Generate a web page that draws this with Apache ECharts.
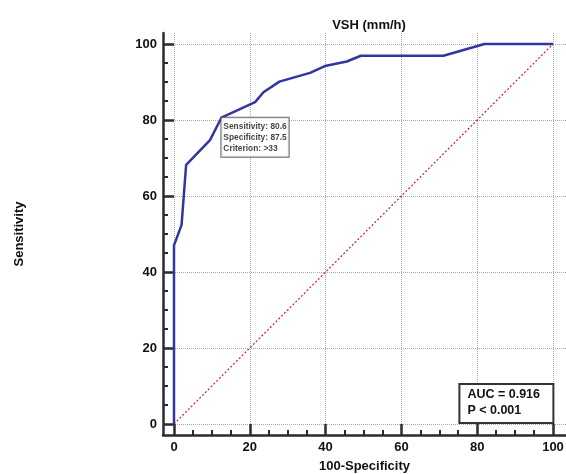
<!DOCTYPE html>
<html>
<head>
<meta charset="utf-8">
<script src="https://cdn.jsdelivr.net/npm/echarts@6/dist/echarts.min.js"></script>
<style>
  html, body { margin: 0; padding: 0; background: #fff; }
  #chart { width: 566px; height: 474px; }
</style>
</head>
<body>
<div id="chart"></div>
<script>
// ROC curve of VSH (mm/h): 100-Specificity vs Sensitivity
const fpr = [0, 0, 2.0, 3.2, 9.5, 12.5, 21.4, 23.6, 27.8, 35.9, 39.8, 45.6, 49.3, 71.1, 81.9, 100];
const sensitivity = [0, 47.0, 52.4, 68.2, 74.7, 80.6, 84.7, 87.3, 90.1, 92.4, 94.2, 95.4, 96.9, 96.9, 100, 100];
const diagonal = [[0, 0], [100, 100]];
const criterion = { fpr: 12.5, sens: 80.6, spec: 87.5, cut: '>33' };
const majorTicks = [0, 20, 40, 60, 80, 100];
const minorTicks = [5, 10, 15, 25, 30, 35, 45, 50, 55, 65, 70, 75, 85, 90, 95];
const aucText = ['AUC = 0.916', 'P < 0.001'];

const FONT = '"Liberation Sans", Arial, sans-serif';
const INK = '#2b2b2b';

const curve = fpr.map((x, i) => [x, sensitivity[i]]);

const majorAxis = (extra) => Object.assign({
  type: 'value',
  gridIndex: 0,
  axisLine: { show: true, onZero: false, lineStyle: { color: INK, width: 2.5 } },
  axisTick: { show: true, inside: true, length: 11, customValues: majorTicks,
              lineStyle: { color: INK, width: 2.5 } },
  axisLabel: { show: true, customValues: majorTicks, margin: 6,
               color: '#111', fontFamily: FONT, fontWeight: 'bold', fontSize: 13 },
  splitLine: { show: true, lineStyle: { color: '#aaa', type: 'dotted', width: 1 } },
  nameLocation: 'middle',
  nameTextStyle: { color: '#111', fontFamily: FONT, fontWeight: 'bold', fontSize: 13 }
}, extra);

const minorAxis = (extra) => Object.assign({
  type: 'value',
  gridIndex: 0,
  axisLine: { show: false, onZero: false },
  axisTick: { show: true, inside: true, length: 5, customValues: minorTicks,
              lineStyle: { color: INK, width: 2 } },
  axisLabel: { show: false },
  splitLine: { show: false }
}, extra);

const chart = echarts.init(document.getElementById('chart'), null, { renderer: 'canvas' });
chart.setOption({
  backgroundColor: '#fff',
  animation: false,
  title: [
    {
      text: 'VSH (mm/h)',
      left: 364, top: 14, textAlign: 'center',
      textStyle: { color: '#111', fontFamily: FONT, fontWeight: 'bold', fontSize: 13 }
    },
    {
      text: aucText.join('\n'),
      right: 12, bottom: 51,
      backgroundColor: '#fff',
      borderColor: '#333', borderWidth: 2,
      padding: [3, 14, 4, 8],
      textStyle: { color: '#111', fontFamily: FONT, fontWeight: 'bold', fontSize: 12.5, lineHeight: 16 }
    }
  ],
  grid: { left: 163, right: 0, top: 33, bottom: 39, containLabel: false, outerBoundsMode: 'none' },
  xAxis: [
    majorAxis({ min: -2.902, max: 103.43, name: '100-Specificity', nameGap: 25 }),
    minorAxis({ min: -2.902, max: 103.43, position: 'bottom' })
  ],
  yAxis: [
    majorAxis({ min: -2.895, max: 102.895, name: 'Sensitivity', nameGap: 137 }),
    minorAxis({ min: -2.895, max: 102.895, position: 'left' })
  ],
  series: [
    {
      type: 'line',
      data: diagonal,
      symbol: 'none',
      silent: true,
      lineStyle: { color: '#b82828', width: 1.2, type: [2, 2] },
      z: 2
    },
    {
      type: 'line',
      data: curve,
      symbol: 'none',
      silent: true,
      lineStyle: { color: '#3434a2', width: 2.5 },
      z: 3
    },
    {
      type: 'scatter',
      data: [[criterion.fpr, criterion.sens]],
      symbolSize: 0,
      silent: true,
      z: 4,
      label: {
        show: true,
        position: [0, 0],
        align: 'left',
        verticalAlign: 'top',
        formatter: [
          'Sensitivity: ' + criterion.sens.toFixed(1),
          'Specificity: ' + criterion.spec.toFixed(1),
          'Criterion: ' + criterion.cut
        ].join('\n'),
        backgroundColor: '#fff',
        borderColor: '#444',
        borderWidth: 1,
        padding: [3, 2, 3, 2],
        color: '#111',
        fontFamily: FONT,
        fontWeight: 'bold',
        fontSize: 8.4,
        lineHeight: 11
      }
    }
  ]
});
</script>
</body>
</html>
